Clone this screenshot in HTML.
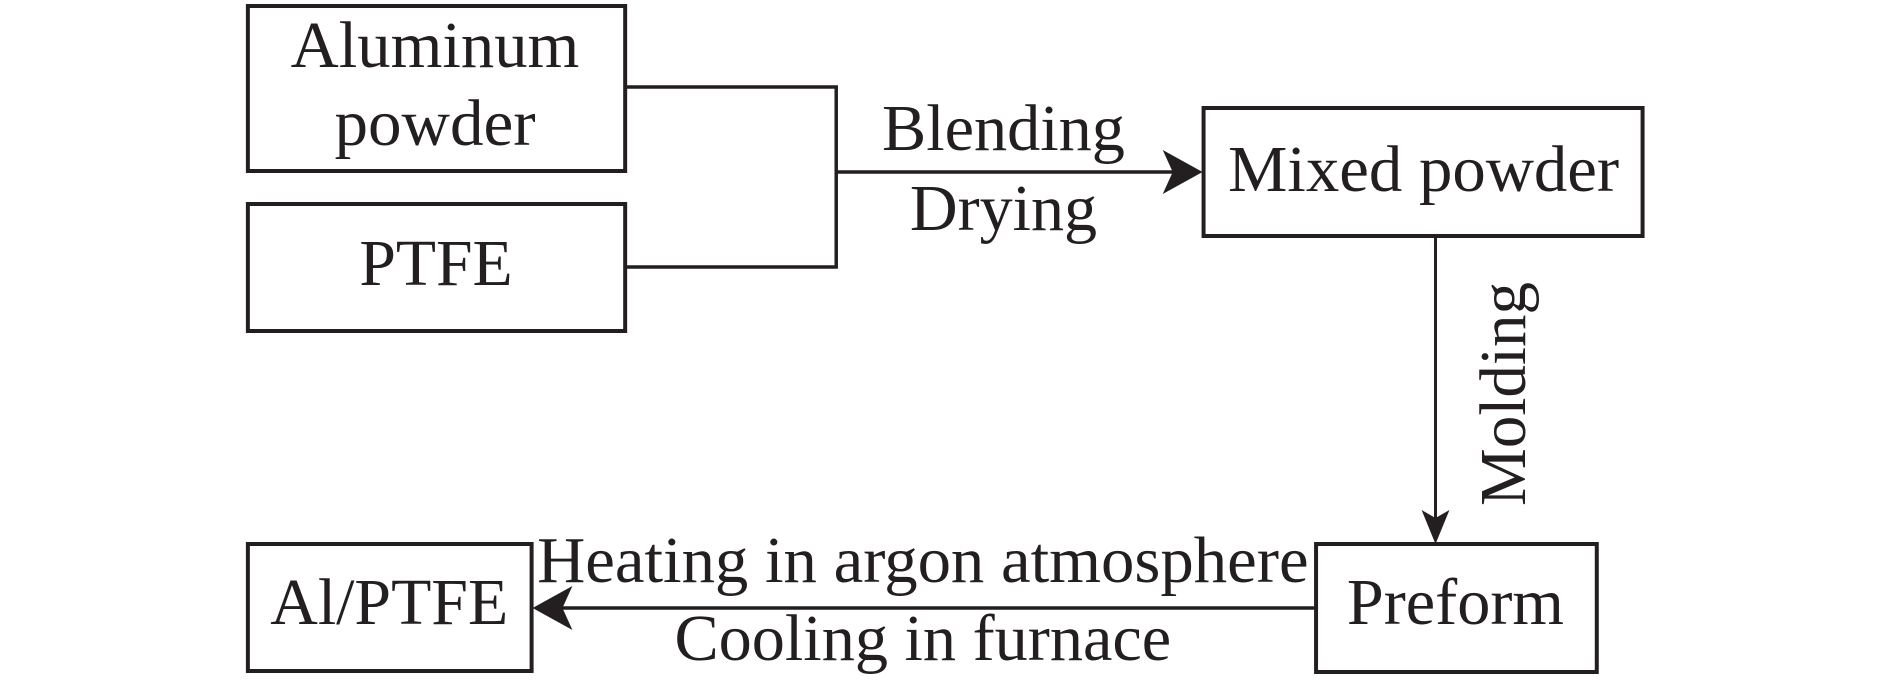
<!DOCTYPE html>
<html><head><meta charset="utf-8"><style>html,body{margin:0;padding:0;background:#fff}</style></head>
<body>
<svg width="1890" height="685" xmlns="http://www.w3.org/2000/svg" font-family="Liberation Serif, serif" font-size="66" fill="#231f20">
<g transform="scale(0.9955,1)">
<g fill="none" stroke="#231f20" stroke-width="4">
<rect x="249" y="6" width="379" height="165"/>
<rect x="249" y="204" width="379" height="127"/>
<rect x="1209" y="108" width="441" height="128"/>
<rect x="1322" y="544" width="282" height="128"/>
<rect x="249" y="544" width="285" height="127"/>
<polyline points="628,87 840,87 840,267 628,267" stroke-width="3.5"/>
<line x1="840" y1="172" x2="1185" y2="172" stroke-width="3.5"/>
<line x1="1442" y1="236" x2="1442" y2="520" stroke-width="3"/>
<line x1="1322" y1="608" x2="560" y2="608" stroke-width="3.5"/>
</g>
<polygon points="1208,172 1168,150 1178,172 1168,194" fill="#231f20"/>
<polygon points="1442,544 1428,510 1442,518 1456,510" fill="#231f20"/>
<polygon points="535,608 575,586 565,608 575,630" fill="#231f20"/>
<g text-anchor="middle">
<text x="437" y="67" textLength="290" lengthAdjust="spacingAndGlyphs">Aluminum</text>
<text x="437" y="145" textLength="202" lengthAdjust="spacingAndGlyphs">powder</text>
<text x="438" y="285" textLength="154" lengthAdjust="spacingAndGlyphs">PTFE</text>
<text x="1008" y="150" textLength="244" lengthAdjust="spacingAndGlyphs">Blending</text>
<text x="1008" y="230" textLength="188" lengthAdjust="spacingAndGlyphs">Drying</text>
<text x="1430" y="191" textLength="393" lengthAdjust="spacingAndGlyphs">Mixed powder</text>
<text transform="translate(1532,394) rotate(-90)" x="0" y="0" textLength="224" lengthAdjust="spacingAndGlyphs">Molding</text>
<text x="927" y="582" textLength="775" lengthAdjust="spacingAndGlyphs">Heating in argon atmosphere</text>
<text x="927" y="660" textLength="499" lengthAdjust="spacingAndGlyphs">Cooling in furnace</text>
<text x="391" y="624" textLength="239" lengthAdjust="spacingAndGlyphs">Al/PTFE</text>
<text x="1462" y="624" textLength="218" lengthAdjust="spacingAndGlyphs">Preform</text>
</g>
</g>
</svg>
</body></html>
